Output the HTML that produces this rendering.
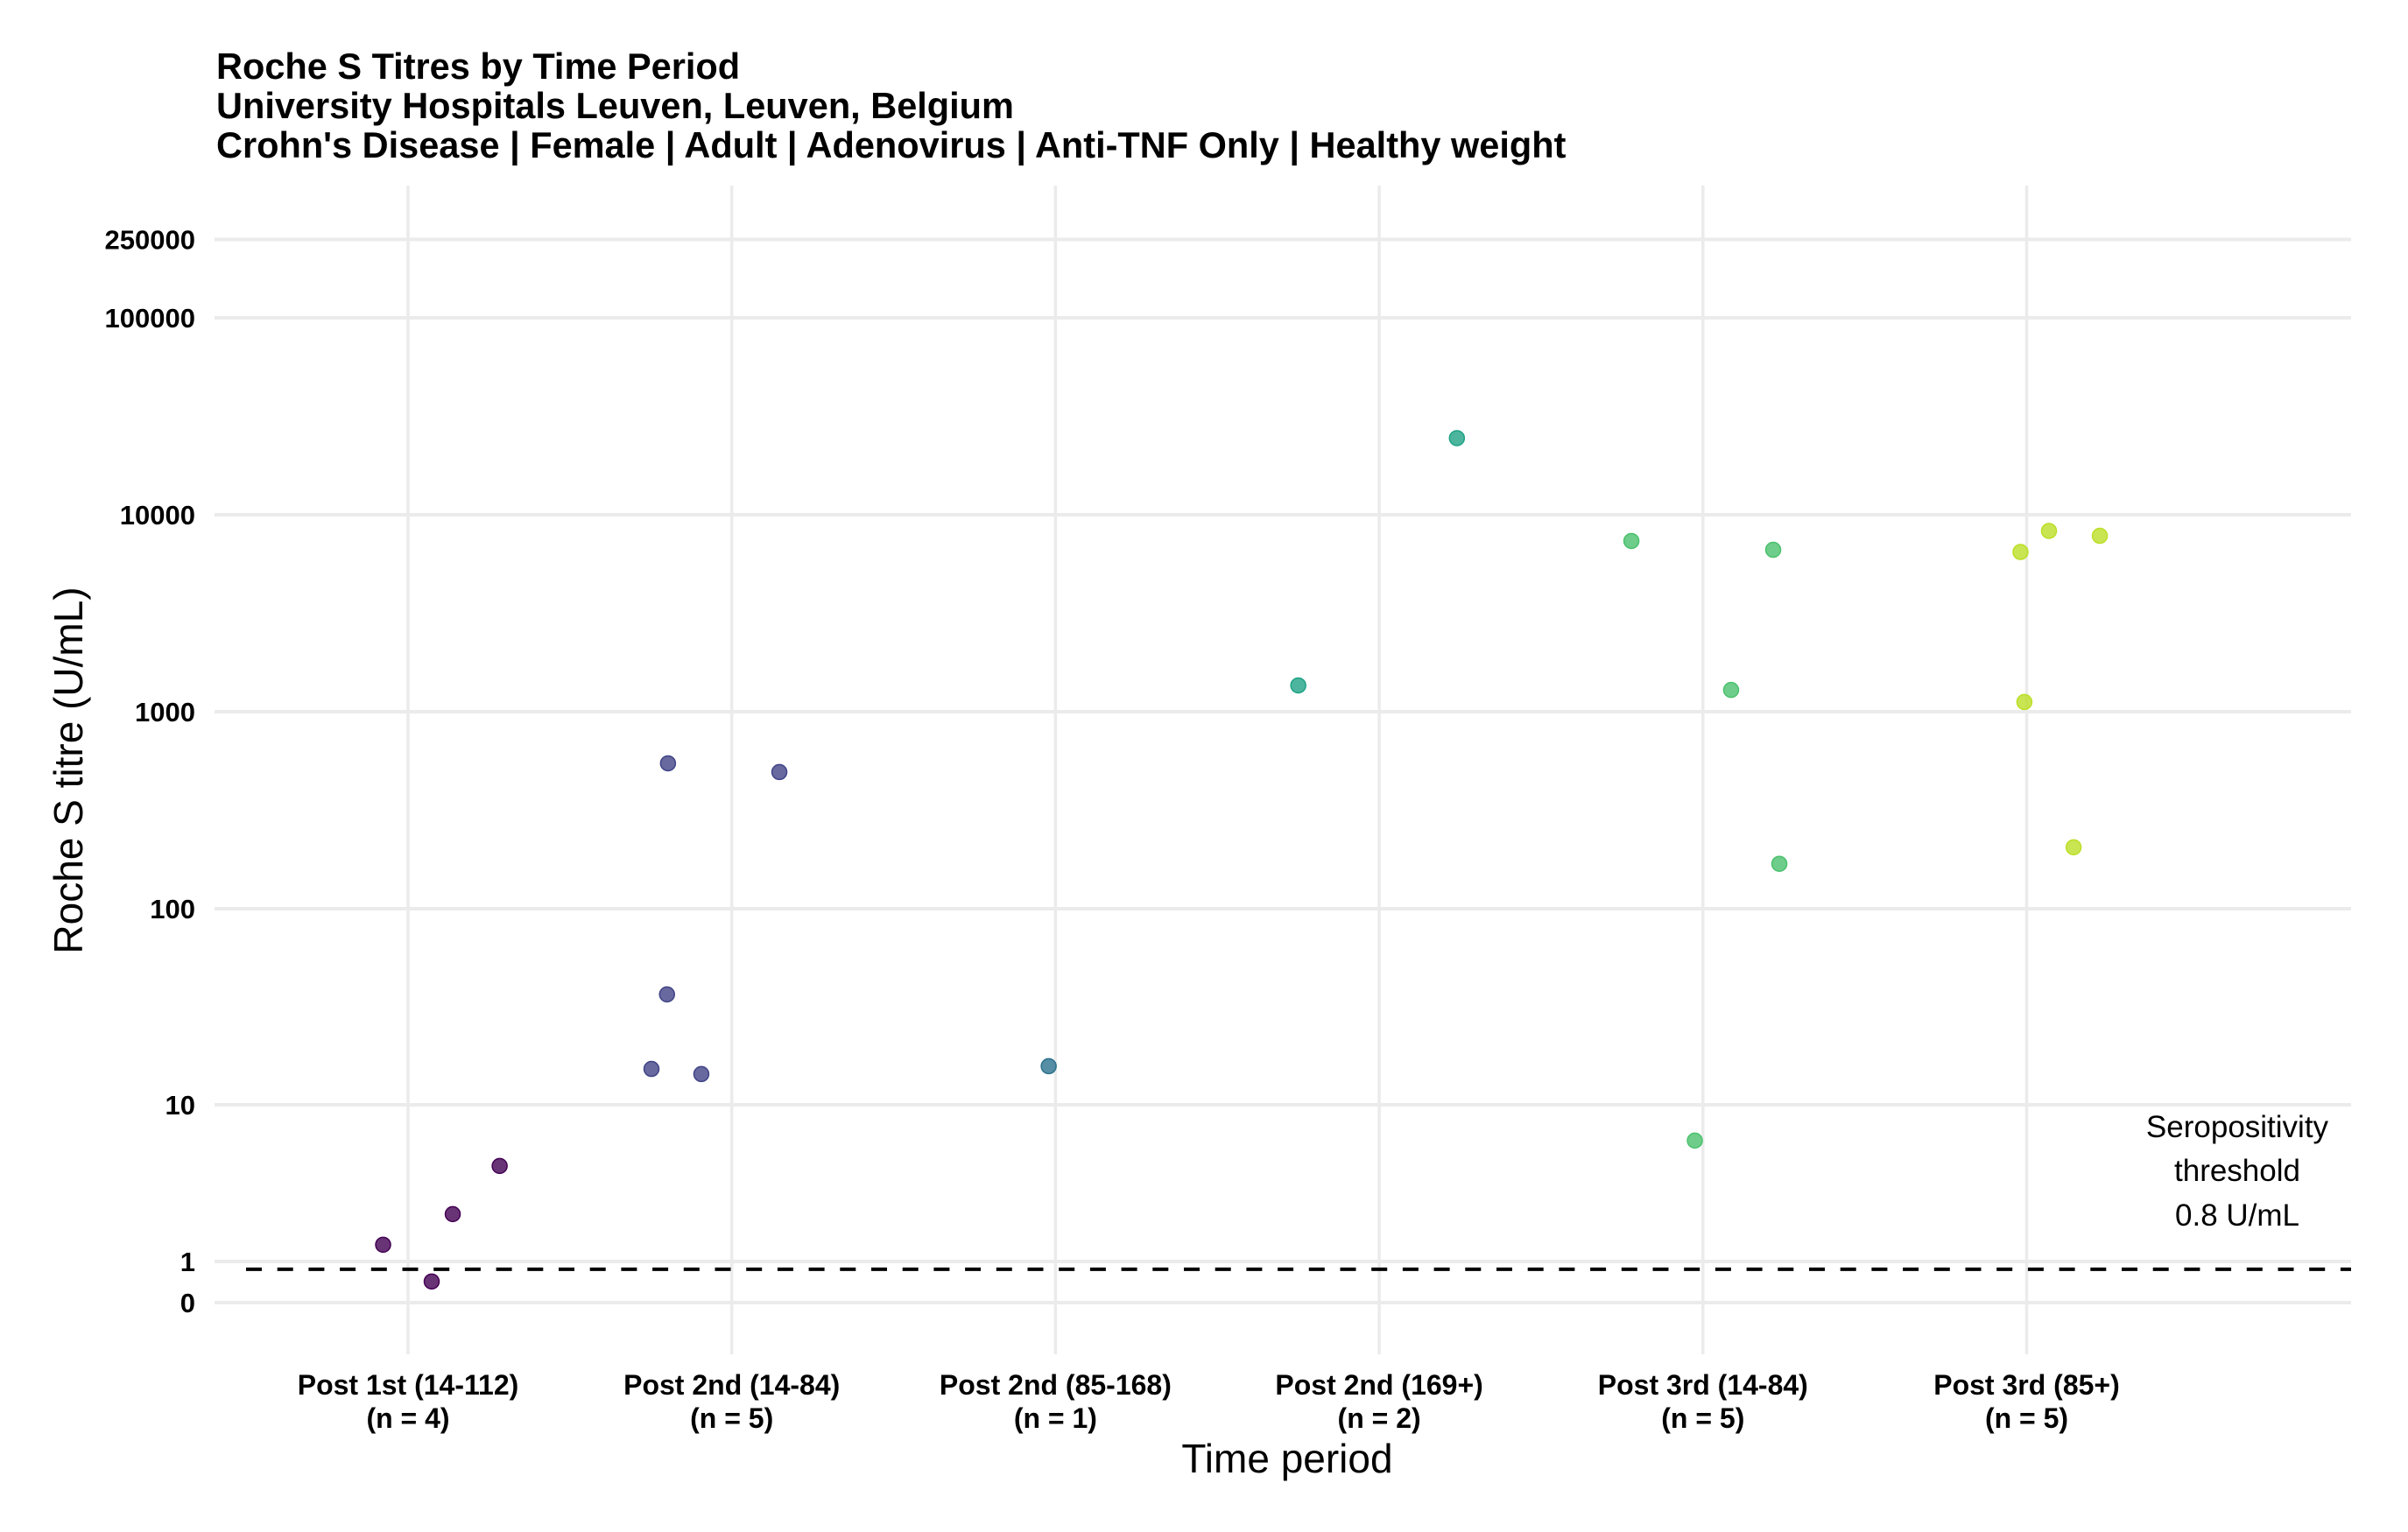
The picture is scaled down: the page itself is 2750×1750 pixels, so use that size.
<!DOCTYPE html>
<html><head><meta charset="utf-8"><style>
html,body{margin:0;padding:0;background:#fff;}
svg{display:block;font-family:"Liberation Sans",Arial,sans-serif;}
</style></head><body>
<svg id="chart" width="2750" height="1750" viewBox="0 0 2750 1750" xmlns="http://www.w3.org/2000/svg">
<rect width="2750" height="1750" fill="#fff"/>
<g font-weight="bold" font-size="41.5" fill="#000">
<text x="247" y="90">Roche S Titres by Time Period</text>
<text x="247" y="135">University Hospitals Leuven, Leuven, Belgium</text>
<text x="247" y="180">Crohn's Disease | Female | Adult | Adenovirus | Anti-TNF Only | Healthy weight</text>
</g>
<g id="grid"></g>
<g id="yticks"></g>
<g id="xticks"></g>
<line id="thresh" stroke="#000" stroke-width="4" stroke-dasharray="18 17.7"/>
<g id="points"></g>
<g font-size="35" text-anchor="middle" fill="#000">
<text x="2555" y="1299">Seropositivity</text>
<text x="2555" y="1349">threshold</text>
<text x="2555" y="1400">0.8 U/mL</text>
</g>
<text x="1470" y="1682" font-size="46" text-anchor="middle">Time period</text>
<text transform="translate(94,880) rotate(-90)" font-size="46" text-anchor="middle">Roche S titre (U/mL)</text>
</svg>
<script>
const categories = ["Post 1st (14-112)","Post 2nd (14-84)","Post 2nd (85-168)","Post 2nd (169+)","Post 3rd (14-84)","Post 3rd (85+)"];
const counts = [4,5,1,2,5,5];
const yTickValues = [0,1,10,100,1000,10000,100000,250000];
const yTickLabels = ["0","1","10","100","1000","10000","100000","250000"];
const threshold = 0.8;
const pointGroup = [0,0,0,0, 1,1,1,1,1, 2, 3,3, 4,4,4,4,4, 5,5,5,5,5];
const pointJitter = [-0.077,0.073,0.138,0.283, -0.197,0.147,-0.2,-0.248,-0.094, -0.021, -0.25,0.24, -0.025,-0.221,0.087,0.217,0.236, -0.019,0.069,0.226,-0.007,0.145];
const pointValues = [1.46,0.5,2.46,4.74, 547,494,36.7,15.3,14.4, 15.8, 1360,24500, 6.5,7360,1290,6640,169, 6470,8280,7820,1120,205];
const colors = ["#440154","#414487","#2C728E","#20A386","#4AC16D","#BBDF27"];

const NS="http://www.w3.org/2000/svg";
const L=245,R=2685,T=212,B=1547;
function xPos(i){return 466+i*369.7;}
function yPos(v){return 1488-225*Math.asinh(v/2)/Math.LN10;}
function mk(tag,attrs,parent){const e=document.createElementNS(NS,tag);for(const k in attrs)e.setAttribute(k,attrs[k]);parent.appendChild(e);return e;}

const grid=document.getElementById('grid');
yTickValues.forEach((v,i)=>{
  const y=yPos(v);
  const g=mk('line',{x1:L,x2:R,y1:y,y2:y,stroke:'#ebebeb','stroke-width':4},grid);
  
  
  const t=mk('text',{x:223,y:y+11,'text-anchor':'end','font-size':31,'font-weight':'bold'},document.getElementById('yticks'));
  
  
  t.textContent=yTickLabels[i];
});
categories.forEach((c,i)=>{
  const x=xPos(i);
  const g=mk('line',{x1:x,x2:x,y1:T,y2:B,stroke:'#ebebeb','stroke-width':3.5},grid);
  
  
  const xt=document.getElementById('xticks');
  const t1=mk('text',{x:x,y:1593,'text-anchor':'middle','font-size':32,'font-weight':'bold'},xt);
  
  
  t1.textContent=c;
  const t2=mk('text',{x:x,y:1631,'text-anchor':'middle','font-size':32,'font-weight':'bold'},xt);
  
  
  t2.textContent='(n = '+counts[i]+')';
});
const th=document.getElementById('thresh');
th.setAttribute('x1',281);th.setAttribute('x2',R);
th.setAttribute('y1',yPos(threshold));th.setAttribute('y2',yPos(threshold));
const pts=document.getElementById('points');
pointValues.forEach((v,i)=>{
  const gi=pointGroup[i];
  const c=mk('circle',{cx:xPos(gi+pointJitter[i]),cy:yPos(v),r:8.5,fill:colors[gi],'fill-opacity':0.8,stroke:colors[gi],'stroke-width':1.5},pts);
  
  
});
</script>
</body></html>
